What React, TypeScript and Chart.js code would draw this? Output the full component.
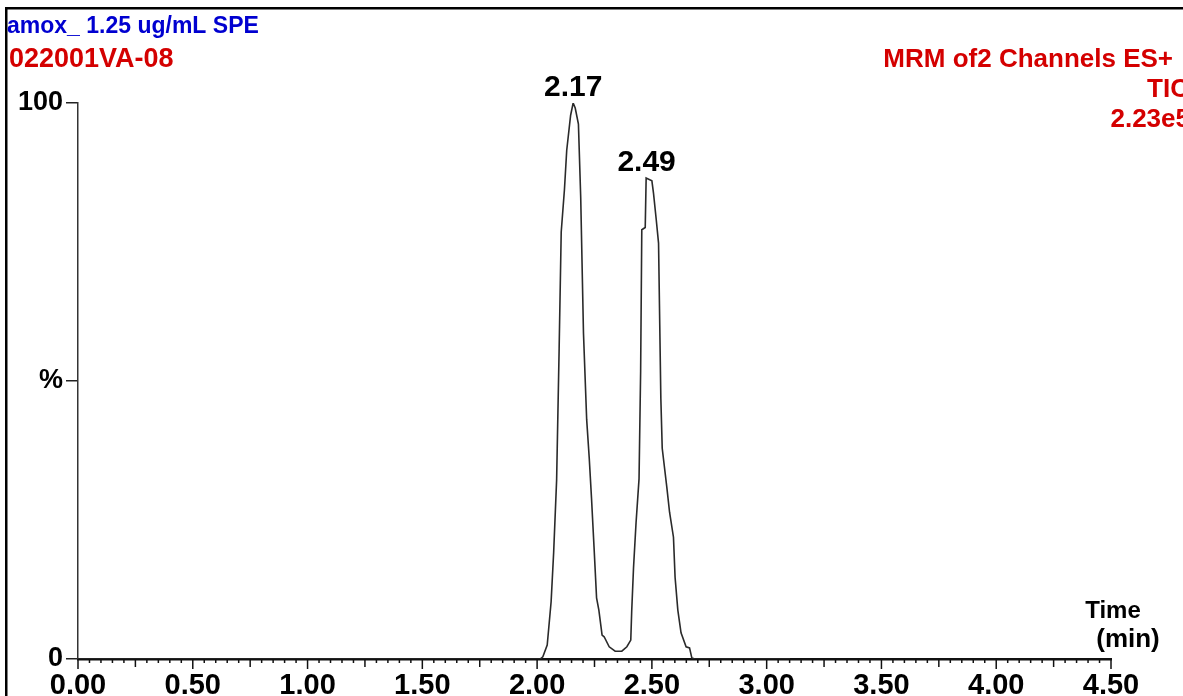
import React, { useEffect, useRef } from "react";
import { Chart, registerables } from "chart.js";

Chart.register(...registerables);

// Retention time (min) and relative intensity (%) of the TIC trace
const times = [0, 2.013, 2.025, 2.044, 2.061, 2.072, 2.085, 2.096, 2.105, 2.119, 2.129, 2.146, 2.157, 2.166, 2.18, 2.19, 2.202, 2.216, 2.227, 2.237, 2.248, 2.259, 2.269, 2.283, 2.292, 2.314, 2.34, 2.369, 2.391, 2.408, 2.412, 2.42, 2.431, 2.444, 2.451, 2.456, 2.471, 2.475, 2.5, 2.507, 2.519, 2.529, 2.539, 2.545, 2.565, 2.577, 2.594, 2.601, 2.613, 2.627, 2.649, 2.664, 2.674, 2.688, 3.102];
const intensities = [0, 0, 0.4, 2.5, 10.3, 19.1, 32.2, 55.9, 76.8, 84.4, 91.5, 97.8, 100, 99.1, 96.2, 82.9, 58.6, 43.0, 36.2, 28.9, 20.1, 11.0, 8.8, 4.3, 4.0, 2.2, 1.4, 1.4, 2.2, 3.4, 8.5, 16.4, 24.5, 32.4, 51.8, 77.2, 77.6, 86.5, 86.0, 83.8, 79.0, 74.8, 46.9, 37.9, 30.9, 26.4, 21.9, 14.7, 8.8, 4.7, 2.2, 2.0, 0.2, 0, 0];

// Peak annotations
const peakTimes = [2.17, 2.49];
const peakHeights = [100, 86.5];
const peakLabels = ["2.17", "2.49"];

// Axis ticks
const xTickValues = [0, 0.5, 1, 1.5, 2, 2.5, 3, 3.5, 4, 4.5];
const xTickLabels = ["0.00", "0.50", "1.00", "1.50", "2.00", "2.50", "3.00", "3.50", "4.00", "4.50"];
const yTickValues = [0, 50, 100];
const yTickLabels = ["0", "%", "100"];

// Header texts
const titleLeft = ["amox_ 1.25 ug/mL SPE", "022001VA-08"];
const titleRight = ["MRM of2 Channels ES+", "TIC", "2.23e5"];
const axisTitle = ["Time", "(min)"];

const FONT = "'Liberation Sans', Arial, sans-serif";

const decorPlugin = {
  id: "decor",
  afterDraw(chart: any) {
    const ctx = chart.ctx;
    const xs = chart.scales.x;
    const ys = chart.scales.y;
    ctx.save();
    // frame
    ctx.fillStyle = "#000";
    ctx.fillRect(5, 7, 1178, 2.5);
    ctx.fillRect(5, 7, 2.5, 689);

    // minor ticks along time axis
    const bottom = ys.getPixelForValue(0);
    ctx.strokeStyle = "#111";
    ctx.lineWidth = 1.5;
    for (let i = 0; i <= 90; i++) {
      const v = i * 0.05;
      const px = xs.getPixelForValue(v);
      const len = i % 10 === 0 ? 10 : i % 5 === 0 ? 8 : 4;
      ctx.beginPath();
      ctx.moveTo(px, bottom);
      ctx.lineTo(px, bottom + len);
      ctx.stroke();
    }

    // left titles
    ctx.textBaseline = "alphabetic";
    ctx.textAlign = "left";
    ctx.font = `bold 23px ${FONT}`;
    ctx.fillStyle = "#0000d0";
    ctx.fillText(titleLeft[0], 7, 33);
    ctx.font = `bold 27px ${FONT}`;
    ctx.fillStyle = "#d40000";
    ctx.fillText(titleLeft[1], 9, 67);

    // right titles
    ctx.textAlign = "right";
    ctx.font = `bold 26px ${FONT}`;
    ctx.fillText(titleRight[0], 1173, 67);
    ctx.fillText(titleRight[1], 1189, 97);
    ctx.fillText(titleRight[2], 1190, 127);

    // peak labels
    ctx.fillStyle = "#000";
    ctx.textAlign = "center";
    ctx.font = `bold 30px ${FONT}`;
    for (let i = 0; i < peakTimes.length; i++) {
      const px = xs.getPixelForValue(peakTimes[i]);
      const py = ys.getPixelForValue(peakHeights[i]);
      ctx.fillText(peakLabels[i], px - 3, py - 7);
    }

    // axis title
    ctx.font = `bold 24px ${FONT}`;
    ctx.fillText(axisTitle[0], 1113, 618);
    ctx.font = `bold 26px ${FONT}`;
    ctx.fillText(axisTitle[1], 1128, 647);
    ctx.restore();
  },
};

export default function App() {
  const canvasRef = useRef<HTMLCanvasElement | null>(null);

  useEffect(() => {
    document.body.style.margin = "0";
    const canvas = canvasRef.current;
    if (!canvas) return;
    const chart = new Chart(canvas, {
      type: "line",
      data: {
        datasets: [
          {
            data: times.map((t, i) => ({ x: t, y: intensities[i] })),
            borderColor: "#2a2a2a",
            borderWidth: 1.6,
            pointRadius: 0,
            tension: 0,
            fill: false,
          },
        ],
      },
      options: {
        responsive: false,
        animation: false,
        devicePixelRatio: 1,
        layout: { padding: { left: 0, right: 72, top: 103, bottom: 0 } },
        plugins: { legend: { display: false }, tooltip: { enabled: false }, title: { display: false } },
        scales: {
          x: {
            type: "linear",
            min: 0,
            max: 4.5,
            afterFit: (s: any) => {
              s.height = 37;
            },
            afterBuildTicks: (s: any) => {
              s.ticks = xTickValues.map((v) => ({ value: v }));
            },
            ticks: {
              autoSkip: false,
              maxRotation: 0,
              padding: 10,
              color: "#000",
              font: { family: FONT, size: 29, weight: "bold" },
              callback: (v: any) => {
                const idx = xTickValues.indexOf(Number(v));
                return idx >= 0 ? xTickLabels[idx] : "";
              },
            },
            grid: { display: false, drawTicks: false, tickLength: 0 },
            border: { display: true, color: "#111", width: 2.5 },
          },
          y: {
            type: "linear",
            min: 0,
            max: 100,
            afterFit: (s: any) => {
              s.width = 78;
            },
            afterBuildTicks: (s: any) => {
              s.ticks = yTickValues.map((v) => ({ value: v }));
            },
            ticks: {
              padding: 3,
              color: "#000",
              font: { family: FONT, size: 27, weight: "bold" },
              callback: (v: any) => {
                const idx = yTickValues.indexOf(Number(v));
                return idx >= 0 ? yTickLabels[idx] : "";
              },
            },
            grid: { display: true, drawOnChartArea: false, drawTicks: true, tickLength: 12, color: "#222", lineWidth: 1.5 },
            border: { display: true, color: "#333", width: 1.5 },
          },
        },
      },
      plugins: [decorPlugin],
    });
    return () => chart.destroy();
  }, []);

  return (
    <div style={{ position: "fixed", left: 0, top: 0, width: 1183, height: 696, background: "#fff" }}>
      <canvas ref={canvasRef} width={1183} height={696} style={{ width: 1183, height: 696, display: "block" }} />
    </div>
  );
}
